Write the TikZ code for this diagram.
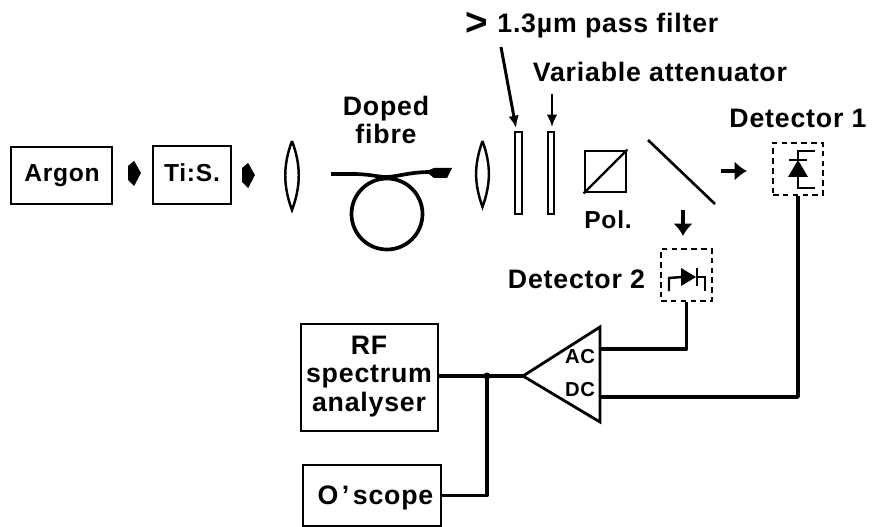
\documentclass[tikz,border=0pt]{standalone}
\usepackage{fontspec}
\setmainfont[LetterSpace=3]{Liberation Sans}
\usepackage{tikz}
\usetikzlibrary{arrows.meta}
\usetikzlibrary{positioning}
\tikzset{
  instrbox/.style={draw, line width=1.5pt, inner sep=0pt, align=center},
  lbl/.style={font=\fontsize{14}{16}\selectfont\bfseries, inner sep=0pt, align=center},
  biglbl/.style={font=\fontsize{15.2}{17}\selectfont\bfseries, inner sep=0pt, align=center},
  amplbl/.style={font=\fontsize{11.5}{12}\selectfont\bfseries, inner sep=0pt},
  wire/.style={line width=2.1pt, line join=round},
  optic/.style={line width=1.4pt},
  detbox/.style={draw, line width=1.6pt, dash pattern=on 3.2pt off 2.4pt},
  thinarrow/.style={line width=1.7pt, -{Latex[length=7pt, width=6pt]}},
  beamarrow/.style={line width=2.8pt, -{Latex[length=7pt, width=11pt]}},
  diamondbeam/.style={fill=black, draw=black, line join=round}
}
\begin{document}
\begin{tikzpicture}[x=0.02cm, y=-0.02cm]
    \useasboundingbox (0, 0) rectangle (873, 527);

    % sources
    \node [instrbox, minimum width=2.02cm, minimum height=1.14cm] (argon) at (61.5, 175.5) {};
    \node [lbl] (argonlbl) at (62, 176) {Argon};
    \node [instrbox, minimum width=1.56cm, minimum height=1.16cm] (tis) at (192, 175) {};
    \node [lbl] (tislbl) at (192, 173) {Ti:S.};
    \draw [diamondbeam] (128.5, 166) -- (134, 161.5) -- (140.5, 173) -- (134, 185.5) -- (128.5, 180) -- cycle;
    \draw [diamondbeam] (242.5, 168) -- (248, 163.5) -- (254.5, 175) -- (248, 187.5) -- (242.5, 182) -- cycle;

    % lenses
    \draw [optic] (292, 141) .. controls (283, 165) and (283, 186) .. (292, 210) .. controls (301, 186) and (301, 165) .. (292, 141);
    \draw [optic] (482.5, 141) .. controls (474, 165) and (474, 183) .. (482.5, 207) .. controls (491, 183) and (491, 165) .. (482.5, 141);

    % fibre
    \node [biglbl] (dopedlbl) at (386, 120) {Doped\\[-1pt]fibre};
    \draw [wire] (331, 174) -- (352, 174) .. controls (370, 174) and (378, 177) .. (386, 177) .. controls (396, 177) and (410, 172) .. (430, 172);
    \draw [wire] (387, 214) circle (35.5);
    \fill (429, 170) -- (434, 168) -- (452, 168) -- (447, 178) -- (434, 178) -- (429, 174) -- cycle;

    % filters
    \draw [optic] (515, 132) rectangle (522, 214);
    \draw [optic] (548, 132) rectangle (554, 214);
    \node [biglbl, anchor=west] (filterlbl) at (497, 26) {1.3µm pass filter};
    \node [font=\fontsize{22}{22}\selectfont\bfseries, inner sep=0pt] (gtlbl) at (477, 24) {>};
    \node [biglbl] (attenlbl) at (660, 72) {Variable attenuator};
    \draw [thinarrow] (501, 47) -- (516, 128);
    \draw [thinarrow] (552, 94) -- (552, 127);

    % polariser and splitter
    \node [draw, line width=1.6pt, minimum size=0.82cm, inner sep=0pt] (pol) at (605.5, 171.5) {};
    \draw [line width=1.3pt] (pol.south west) -- (pol.north east);
    \node [lbl] (pollbl) at (608, 220) {Pol.};
    \draw [line width=1.5pt] (648, 140) -- (715, 204);
    \draw [beamarrow] (721, 171) -- (747, 171);
    \draw [beamarrow] (683, 210) -- (683, 236);

    % detector 1
    \node [biglbl] (detonelbl) at (798, 118) {Detector 1};
    \node [detbox, minimum width=1cm, minimum height=1.04cm, inner sep=0pt] (detone) at (798, 169) {};
    \draw [line width=1.4pt] (815, 151) -- (798, 151) -- (798, 160);
    \draw [line width=1.4pt] (789, 160) -- (807, 160);
    \fill (798, 160) -- (808, 177) -- (788, 177) -- cycle;
    \draw [line width=1.4pt] (798, 177) -- (798, 188) -- (815, 188);

    % detector 2
    \node [biglbl] (dettwolbl) at (576.5, 279) {Detector 2};
    \node [detbox, minimum width=1.02cm, minimum height=1.04cm, inner sep=0pt] (dettwo) at (686.5, 275) {};
    \draw [line width=1.4pt] (669, 291) -- (669, 278) -- (682, 277);
    \fill (681, 268) -- (696, 277) -- (681, 286) -- cycle;
    \draw [line width=1.4pt] (697, 268) -- (697, 286);
    \draw [line width=1.4pt] (697, 277) -- (705, 277) -- (705, 291);

    % amplifier
    \coordinate (ampin) at (523, 376);
    \coordinate (ampac) at (601, 349);
    \coordinate (ampdc) at (601, 397);
    \draw [line width=1.6pt, line join=miter] (ampin) -- (600, 327) -- (600, 422) -- cycle;
    \node [amplbl] (aclbl) at (580, 357) {AC};
    \node [amplbl] (dclbl) at (580, 390) {DC};
    \draw [wire] (ampac) -| (dettwo.south);
    \draw [wire] (ampdc) -| (detone.south);

    % readout
    \node [instrbox, minimum width=2.74cm, minimum height=2.14cm] (rf) at (369.5, 377.5) {};
    \node [biglbl] (rflbl) at (369, 376.5) {RF\\[-0.6pt]spectrum\\[-0.6pt]analyser};
    \node [instrbox, minimum width=2.76cm, minimum height=1.22cm] (scope) at (372, 495.5) {};
    \node [biglbl] (scopelbl) at (375.5, 498) {O\kern2pt'\kern2pt scope};
    \coordinate (junc) at (487, 376);
    \draw [wire] (rf.east |- ampin) -- (ampin);
    \draw [wire] (junc) |- (scope.east);
    \fill (junc) circle (3.5);
  \end{tikzpicture}
\end{document}
